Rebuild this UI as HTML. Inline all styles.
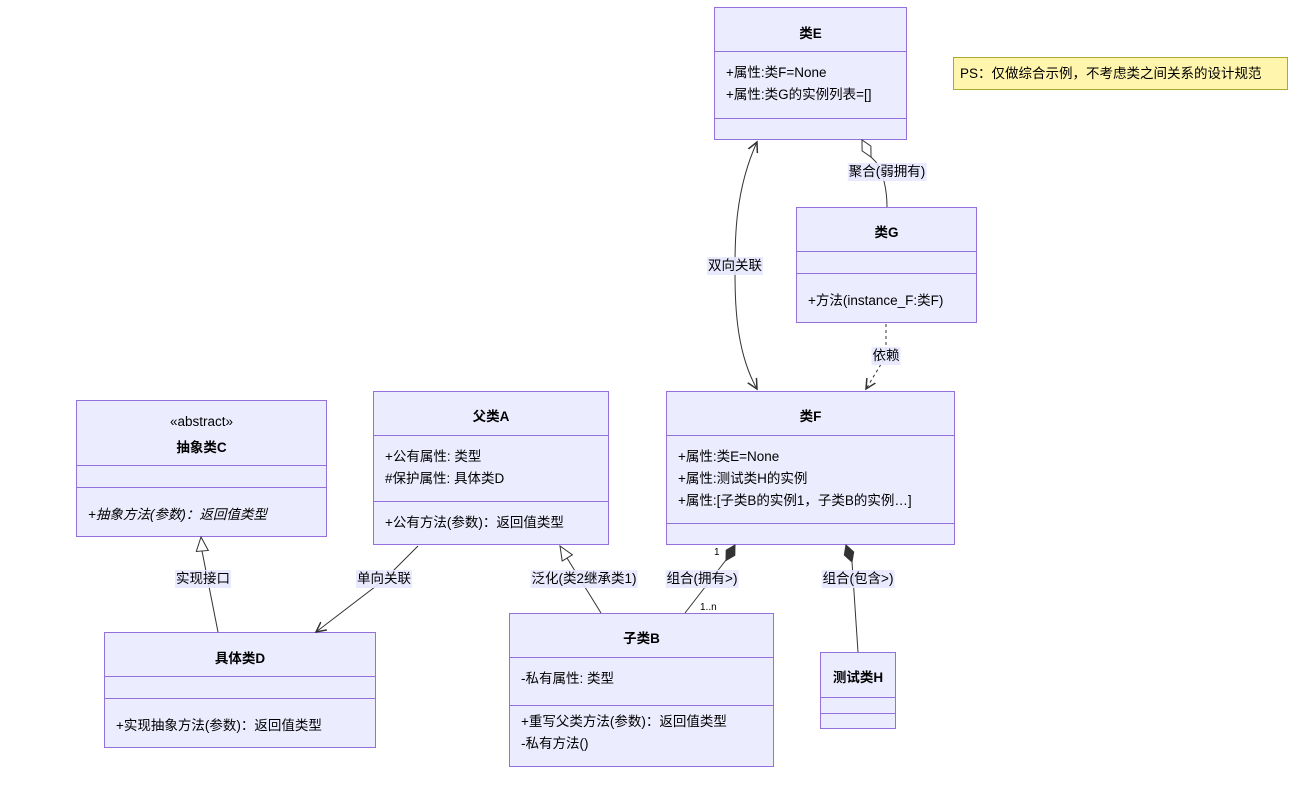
<!DOCTYPE html>
<html><head><meta charset="utf-8"><style>
body{margin:0;width:1299px;height:785px;background:#fff;position:relative;overflow:hidden;font-family:"Liberation Sans","Noto Sans CJK SC",sans-serif;font-size:13.5px;color:#333}
.b{position:absolute;background:#ECECFF;border:1px solid #9370DB;box-sizing:border-box}
.d{position:absolute;left:0;right:0;border-top:1px solid #9370DB}
.t{position:absolute;left:0;right:0;text-align:center;font-weight:bold;color:#000}
.m{position:absolute;left:11px;white-space:nowrap;color:#000;line-height:22px}
.l{position:absolute;background:rgba(232,232,255,0.9);color:#000;white-space:nowrap;transform:translate(-50%,-50%);padding:0 1px;line-height:18px;z-index:3}
.s{position:absolute;font-size:10px;color:#000;z-index:3}
</style></head><body>

<div class="b" style="left:714px;top:7px;width:193px;height:133px"><div class="t" style="top:14px">类E</div><div class="d" style="top:43px"></div><div class="m" style="top:54px">+属性:类F=None<br>+属性:类G的实例列表=[]</div><div class="d" style="top:110px"></div></div>
<div class="b" style="left:796px;top:207px;width:181px;height:116px"><div class="t" style="top:13px">类G</div><div class="d" style="top:43px"></div><div class="d" style="top:65px"></div><div class="m" style="top:82px">+方法(instance_F:类F)</div></div>
<div class="b" style="left:666px;top:391px;width:289px;height:154px"><div class="t" style="top:13px">类F</div><div class="d" style="top:43px"></div><div class="m" style="top:54px">+属性:类E=None<br>+属性:测试类H的实例<br>+属性:[子类B的实例1，子类B的实例…]</div><div class="d" style="top:131px"></div></div>
<div class="b" style="left:373px;top:391px;width:236px;height:154px"><div class="t" style="top:13px">父类A</div><div class="d" style="top:43px"></div><div class="m" style="top:54px">+公有属性: 类型<br>#保护属性: 具体类D</div><div class="d" style="top:109px"></div><div class="m" style="top:120px">+公有方法(参数)：返回值类型</div></div>
<div class="b" style="left:76px;top:400px;width:251px;height:137px"><div class="t" style="top:13px;font-weight:normal">«abstract»</div><div class="t" style="top:35px">抽象类C</div><div class="d" style="top:64px"></div><div class="d" style="top:86px"></div><div class="m" style="top:103px;font-style:italic">+抽象方法(参数)：返回值类型</div></div>
<div class="b" style="left:104px;top:632px;width:272px;height:116px"><div class="t" style="top:14px">具体类D</div><div class="d" style="top:43px"></div><div class="d" style="top:65px"></div><div class="m" style="top:82px">+实现抽象方法(参数)：返回值类型</div></div>
<div class="b" style="left:509px;top:613px;width:265px;height:154px"><div class="t" style="top:13px">子类B</div><div class="d" style="top:43px"></div><div class="m" style="top:54px">-私有属性: 类型</div><div class="d" style="top:91px"></div><div class="m" style="top:97px">+重写父类方法(参数)：返回值类型<br>-私有方法()</div></div>
<div class="b" style="left:820px;top:652px;width:76px;height:77px"><div class="t" style="top:13px">测试类H</div><div class="d" style="top:44px"></div><div class="d" style="top:60px"></div></div>
<div style="position:absolute;left:953px;top:57px;width:335px;height:33px;box-sizing:border-box;background:#fff5ad;border:1px solid #aaaa33;line-height:31px;padding-left:6px;color:#000">PS：仅做综合示例，不考虑类之间关系的设计规范</div>

<svg width="1299" height="785" style="position:absolute;left:0;top:0;z-index:2">
<defs>
<marker id="ar" markerWidth="12" markerHeight="12" refX="10" refY="6" orient="auto" markerUnits="userSpaceOnUse"><path d="M0,1 L10,6 L0,11" fill="none" stroke="#333" stroke-width="1.5"/></marker>
<marker id="ar0" markerWidth="12" markerHeight="12" refX="10" refY="6" orient="auto-start-reverse" markerUnits="userSpaceOnUse"><path d="M0,1 L10,6 L0,11" fill="none" stroke="#333" stroke-width="1.5"/></marker>
</defs>
<g fill="none" stroke="#333" stroke-width="1">
<path d="M757,142 C735,190 735,240 735,266 C735,300 735,350 757,389" marker-start="url(#ar0)" marker-end="url(#ar)"/>
<path d="M871,157 L876,162 Q887,180 887,207"/>
<path d="M886,324 L886,356 L866,389" stroke-dasharray="3,3" marker-end="url(#ar)"/>
<path d="M726,560 L685,613"/>
<path d="M852,562 L858,652"/>
<path d="M418,546 L384,580 L316,632" marker-end="url(#ar)"/>
<path d="M601,613 L567,558"/>
<path d="M218,632 L202,551"/>
</g>
<polygon points="862,140 862.1,150.9 871,157 870.9,146.1" fill="#fff" stroke="#333"/>
<polygon points="735,545 734.8,555.3 726,560.5 726.2,550.2" fill="#333" stroke="#333"/>
<polygon points="846,545 853.7,551.9 852,562 844.3,555.1" fill="#333" stroke="#333"/>
<polygon points="560,546 572.4,554.8 562.2,561" fill="#fff" stroke="#333"/>
<polygon points="201,537 208.3,550.5 196.3,551.5" fill="#fff" stroke="#333"/>
</svg>

<div class="l" style="left:735px;top:266px">双向关联</div>
<div class="l" style="left:887px;top:172px">聚合(弱拥有)</div>
<div class="l" style="left:886px;top:356px">依赖</div>
<div class="l" style="left:702px;top:579px">组合(拥有&gt;)</div>
<div class="l" style="left:858px;top:579px">组合(包含&gt;)</div>
<div class="l" style="left:384px;top:579px">单向关联</div>
<div class="l" style="left:584px;top:579px">泛化(类2继承类1)</div>
<div class="l" style="left:203px;top:579px">实现接口</div>
<div class="s" style="left:714px;top:547px">1</div>
<div class="s" style="left:700px;top:602px">1..n</div>
</body></html>
